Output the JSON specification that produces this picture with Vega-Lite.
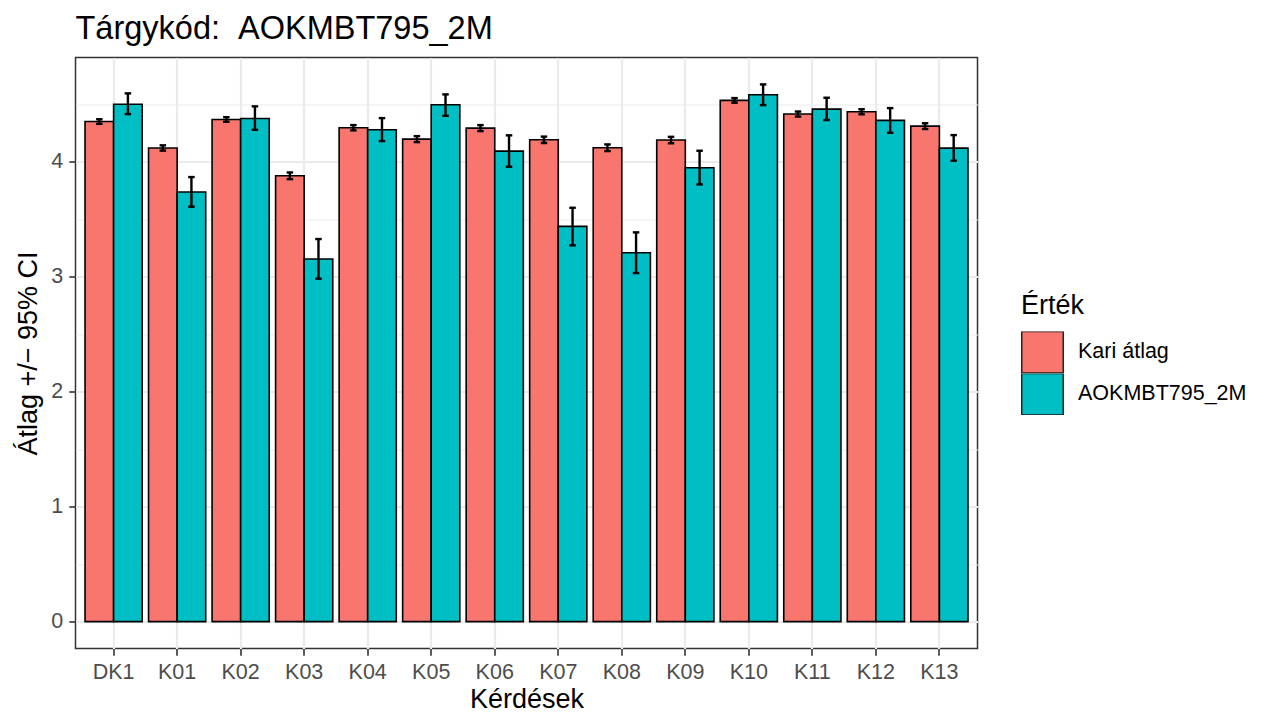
{
  "$schema": "https://vega.github.io/schema/vega-lite/v6.json",
  "width": 902,
  "height": 591,
  "autosize": {"type": "none"},
  "padding": {"left": 75.5, "top": 57.5, "right": 288.5, "bottom": 64.5},
  "background": "white",
  "title": {
    "text": "Tárgykód: \u00a0AOKMBT795_2M",
    "anchor": "start",
    "frame": "group",
    "font": "Liberation Sans",
    "fontSize": 32.5,
    "fontWeight": "normal",
    "color": "black",
    "baseline": "alphabetic",
    "offset": -14
  },
  "data": {
    "values": [
      {"k": "DK1", "g": "Kari átlag", "v": 4.35, "lo": 4.33, "hi": 4.37},
      {"k": "DK1", "g": "AOKMBT795_2M", "v": 4.50, "lo": 4.415, "hi": 4.595},
      {"k": "K01", "g": "Kari átlag", "v": 4.12, "lo": 4.097, "hi": 4.143},
      {"k": "K01", "g": "AOKMBT795_2M", "v": 3.737, "lo": 3.609, "hi": 3.867},
      {"k": "K02", "g": "Kari átlag", "v": 4.368, "lo": 4.348, "hi": 4.388},
      {"k": "K02", "g": "AOKMBT795_2M", "v": 4.377, "lo": 4.278, "hi": 4.482},
      {"k": "K03", "g": "Kari átlag", "v": 3.878, "lo": 3.849, "hi": 3.907},
      {"k": "K03", "g": "AOKMBT795_2M", "v": 3.154, "lo": 2.983, "hi": 3.328},
      {"k": "K04", "g": "Kari átlag", "v": 4.296, "lo": 4.273, "hi": 4.319},
      {"k": "K04", "g": "AOKMBT795_2M", "v": 4.278, "lo": 4.18, "hi": 4.38},
      {"k": "K05", "g": "Kari átlag", "v": 4.197, "lo": 4.171, "hi": 4.223},
      {"k": "K05", "g": "AOKMBT795_2M", "v": 4.496, "lo": 4.4, "hi": 4.586},
      {"k": "K06", "g": "Kari átlag", "v": 4.293, "lo": 4.267, "hi": 4.319},
      {"k": "K06", "g": "AOKMBT795_2M", "v": 4.093, "lo": 3.957, "hi": 4.23},
      {"k": "K07", "g": "Kari átlag", "v": 4.191, "lo": 4.163, "hi": 4.219},
      {"k": "K07", "g": "AOKMBT795_2M", "v": 3.438, "lo": 3.273, "hi": 3.6},
      {"k": "K08", "g": "Kari átlag", "v": 4.122, "lo": 4.093, "hi": 4.151},
      {"k": "K08", "g": "AOKMBT795_2M", "v": 3.209, "lo": 3.032, "hi": 3.386},
      {"k": "K09", "g": "Kari átlag", "v": 4.189, "lo": 4.161, "hi": 4.217},
      {"k": "K09", "g": "AOKMBT795_2M", "v": 3.948, "lo": 3.803, "hi": 4.096},
      {"k": "K10", "g": "Kari átlag", "v": 4.534, "lo": 4.514, "hi": 4.554},
      {"k": "K10", "g": "AOKMBT795_2M", "v": 4.583, "lo": 4.493, "hi": 4.673},
      {"k": "K11", "g": "Kari átlag", "v": 4.415, "lo": 4.393, "hi": 4.437},
      {"k": "K11", "g": "AOKMBT795_2M", "v": 4.458, "lo": 4.363, "hi": 4.557},
      {"k": "K12", "g": "Kari átlag", "v": 4.435, "lo": 4.413, "hi": 4.457},
      {"k": "K12", "g": "AOKMBT795_2M", "v": 4.36, "lo": 4.252, "hi": 4.467},
      {"k": "K13", "g": "Kari átlag", "v": 4.31, "lo": 4.285, "hi": 4.335},
      {"k": "K13", "g": "AOKMBT795_2M", "v": 4.119, "lo": 4.009, "hi": 4.232}
    ]
  },
  "encoding": {
    "x": {
      "field": "k",
      "type": "nominal",
      "sort": null,
      "scale": {"paddingInner": 0.1, "paddingOuter": 0.15},
      "axis": {
        "title": "Kérdések",
        "bandPosition": 0.5,
        "labelAngle": 0,
        "grid": true
      }
    },
    "xOffset": {
      "field": "g",
      "type": "nominal",
      "scale": {"domain": ["Kari átlag", "AOKMBT795_2M"], "paddingInner": 0, "paddingOuter": 0}
    }
  },
  "layer": [
    {
      "mark": {"type": "bar", "stroke": "black", "strokeWidth": 1.6, "opacity": 1},
      "encoding": {
        "y": {
          "field": "v",
          "type": "quantitative",
          "scale": {"domain": [-0.2337, 4.907], "nice": false, "zero": false},
          "axis": {
            "title": "Átlag +/− 95% CI",
            "values": [0, 0.5, 1, 1.5, 2, 2.5, 3, 3.5, 4, 4.5],
            "labelExpr": "datum.value % 1 === 0 ? format(datum.value, 'd') : ''",
            "labelPadding": 6,
            "tickOpacity": {"condition": {"test": "datum.value % 1 !== 0", "value": 0}, "value": 1},
            "gridWidth": {"condition": {"test": "datum.value % 1 !== 0", "value": 1.1}, "value": 2.2}
          }
        },
        "color": {
          "field": "g",
          "type": "nominal",
          "scale": {"domain": ["Kari átlag", "AOKMBT795_2M"], "range": ["#F8766D", "#00BFC4"]},
          "legend": {
            "title": "Érték",
            "orient": "none",
            "legendX": 945.5,
            "legendY": 235,
            "padding": 0,
            "symbolType": "square",
            "symbolSize": 1722,
            "symbolStrokeColor": "#1a1a1a",
            "symbolStrokeWidth": 1.4,
            "symbolOpacity": 1,
            "rowPadding": 0,
            "clipHeight": 41.5,
            "labelOffset": 14,
            "labelLimit": 400,
            "titlePadding": 12,
            "titleFont": "Liberation Sans",
            "titleFontSize": 27,
            "titleFontWeight": "normal",
            "titleColor": "black",
            "labelFont": "Liberation Sans",
            "labelFontSize": 21.5,
            "labelColor": "black"
          }
        }
      }
    },
    {
      "mark": {"type": "rule", "color": "black", "strokeWidth": 2.4},
      "encoding": {
        "y": {"field": "lo", "type": "quantitative"},
        "y2": {"field": "hi"}
      }
    },
    {
      "mark": {"type": "tick", "color": "black", "thickness": 2.4, "size": 6.5, "orient": "horizontal", "opacity": 1},
      "encoding": {"y": {"field": "lo", "type": "quantitative"}}
    },
    {
      "mark": {"type": "tick", "color": "black", "thickness": 2.4, "size": 6.5, "orient": "horizontal", "opacity": 1},
      "encoding": {"y": {"field": "hi", "type": "quantitative"}}
    }
  ],
  "config": {
    "view": {"stroke": "#333333", "strokeWidth": 1.5},
    "font": "Liberation Sans",
    "axis": {
      "domain": false,
      "gridColor": "#EBEBEB",
      "gridWidth": 2.2,
      "tickColor": "#333333",
      "tickWidth": 1.6,
      "tickSize": 6.7,
      "labelFont": "Liberation Sans",
      "labelFontSize": 21.5,
      "labelColor": "#4D4D4D",
      "labelPadding": 4,
      "titleFont": "Liberation Sans",
      "titleFontSize": 27,
      "titleFontWeight": "normal",
      "titleColor": "black"
    },
    "axisX": {"titlePadding": 4, "labelPadding": 6},
    "axisY": {"titlePadding": 8}
  }
}
